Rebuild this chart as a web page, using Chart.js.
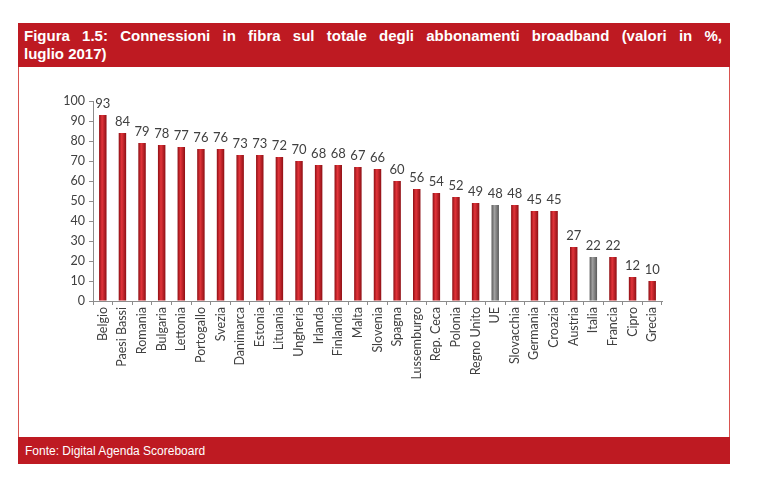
<!DOCTYPE html>
<html>
<head>
<meta charset="utf-8">
<script src="https://cdn.jsdelivr.net/npm/chart.js@4"></script>
<style>
  body { margin: 0; background: #fff; width: 758px; height: 490px; position: relative; overflow: hidden; }
  #frame { position: absolute; left: 18px; top: 23px; width: 710px; height: 441px; border: 1px solid #d9534f; border-top: none; border-bottom: none; }
  #header { position: absolute; left: 18px; top: 23px; width: 698px; height: 40px; background: #be1a22; color: #fff;
    font-family: "Liberation Sans", Arial, sans-serif; font-weight: bold; font-size: 15px; line-height: 18px;
    padding: 4px 8px 0 6px; box-sizing: content-box; }
  #header .l1 { text-align: justify; text-align-last: justify; }
  #footer { position: absolute; left: 18px; top: 437px; width: 712px; height: 27px; background: #be1a22; color: #fff;
    font-family: "Liberation Sans", Arial, sans-serif; font-size: 12px; line-height: 29px; padding-left: 7px; box-sizing: border-box; }
  #wrap { position: absolute; left: 19px; top: 67px; width: 710px; height: 370px; }
</style>
</head>
<body>
<div id="frame"></div>
<div id="header"><div class="l1">Figura 1.5: Connessioni in fibra sul totale degli abbonamenti broadband (valori in %,</div><div>luglio 2017)</div></div>
<div id="wrap"><canvas id="chart"></canvas></div>
<div id="footer">Fonte: Digital Agenda Scoreboard</div>
<script>
const countries = ["Belgio", "Paesi Bassi", "Romania", "Bulgaria", "Lettonia", "Portogallo", "Svezia", "Danimarca", "Estonia", "Lituania",
  "Ungheria", "Irlanda", "Finlandia", "Malta", "Slovenia", "Spagna", "Lussemburgo", "Rep. Ceca", "Polonia", "Regno Unito",
  "UE", "Slovacchia", "Germania", "Croazia", "Austria", "Italia", "Francia", "Cipro", "Grecia"];
const values = [93, 84, 79, 78, 77, 76, 76, 73, 73, 72, 70, 68, 68, 67, 66, 60, 56, 54, 52, 49, 48, 48, 45, 45, 27, 22, 22, 12, 10];
const greyBars = ["UE", "Italia"];
const yTicks = [0, 10, 20, 30, 40, 50, 60, 70, 80, 90, 100];

const barColors = countries.map(c => greyBars.includes(c) ? "#808080" : "#c4161f");
const borderColors = countries.map(c => greyBars.includes(c) ? "#555555" : "#8a0e14");

// shaded (cylinder-like) fill for each bar, built from the bar's own position
const barShading = {
  id: "barShading",
  beforeDatasetsDraw(chart) {
    const ctx = chart.ctx;
    chart.getDatasetMeta(0).data.forEach((bar, i) => {
      const half = bar.width / 2;
      const g = ctx.createLinearGradient(bar.x - half, 0, bar.x + half, 0);
      if (greyBars.includes(countries[i])) {
        g.addColorStop(0, "#5a5a5a");
        g.addColorStop(0.4, "#a0a0a0");
        g.addColorStop(1, "#5a5a5a");
      } else {
        g.addColorStop(0, "#8e0f14");
        g.addColorStop(0.4, "#e2343a");
        g.addColorStop(1, "#8e0f14");
      }
      bar.options.backgroundColor = g;
    });
  }
};

// draw the value above each bar
const valueLabels = {
  id: "valueLabels",
  afterDatasetsDraw(chart) {
    const ctx = chart.ctx;
    const meta = chart.getDatasetMeta(0);
    ctx.save();
    ctx.font = "13px Lato, 'Open Sans', sans-serif";
    ctx.fillStyle = "#404040";
    ctx.textAlign = "center";
    ctx.textBaseline = "bottom";
    meta.data.forEach((bar, i) => {
      ctx.fillText(values[i], bar.x, bar.y - 5);
    });
    ctx.restore();
  }
};

new Chart(document.getElementById("chart"), {
  type: "bar",
  data: {
    labels: countries,
    datasets: [{
      data: values,
      backgroundColor: barColors,
      borderColor: borderColors,
      borderWidth: 0,
      barPercentage: 0.38,
      categoryPercentage: 1
    }]
  },
  options: {
    responsive: true,
    maintainAspectRatio: false,
    animation: false,
    layout: { padding: { left: 34, right: 67, top: 34, bottom: 50 } },
    plugins: { legend: { display: false }, tooltip: { enabled: false } },
    scales: {
      x: {
        grid: { display: true, drawOnChartArea: false, offset: true, tickLength: 4, color: "#8c8c8c" },
        border: { color: "#8c8c8c" },
        ticks: { minRotation: 90, maxRotation: 90, autoSkip: false, color: "#404040", padding: 2,
          font: { family: "Lato, 'Open Sans', sans-serif", size: 12.5 } },
        afterFit: scale => { scale.height = 86; }
      },
      y: {
        min: 0, max: 100,
        afterBuildTicks: scale => { scale.ticks = yTicks.map(v => ({ value: v })); },
        grid: { display: true, drawOnChartArea: false, tickLength: 4, color: "#8c8c8c" },
        border: { color: "#8c8c8c" },
        ticks: { color: "#404040", padding: 4, font: { family: "Lato, 'Open Sans', sans-serif", size: 12.5 } },
        afterFit: scale => { scale.width = 40; }
      }
    }
  },
  plugins: [barShading, valueLabels]
});
</script>
</body>
</html>
